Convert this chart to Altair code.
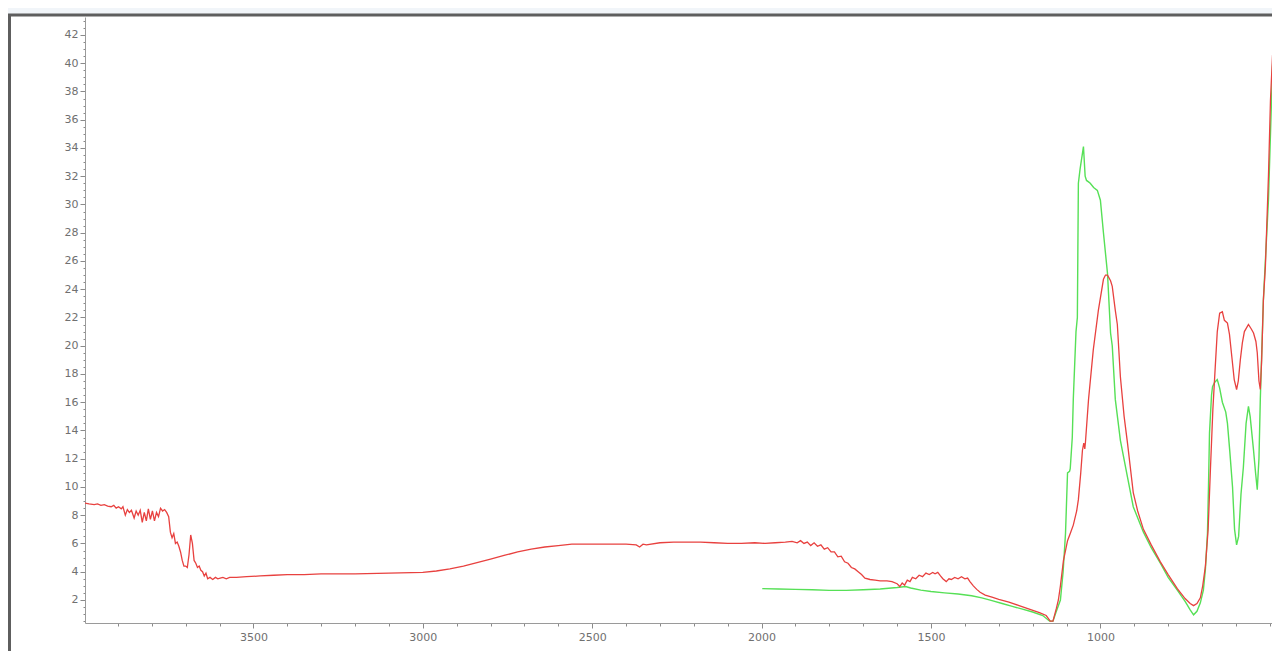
import altair as alt
import pandas as pd

# ---------------- data ----------------
red_x = [3997, 3985, 3970, 3960, 3950, 3940, 3930, 3920, 3912, 3905, 3898, 3890, 3885, 3878,
         3872, 3866, 3860, 3852, 3846, 3840, 3834, 3828, 3822, 3816, 3810, 3804, 3798, 3792,
         3786, 3780, 3774, 3768, 3762, 3756, 3750, 3745, 3740, 3735, 3730, 3725, 3720, 3715,
         3710, 3705, 3700, 3695, 3690, 3685, 3680, 3675, 3670, 3665, 3660, 3655, 3650, 3645,
         3640, 3635, 3628, 3620, 3612, 3605, 3598, 3590, 3580, 3570, 3550, 3520, 3480, 3440,
         3400, 3350, 3300, 3200, 3100, 3000, 2960, 2920, 2880, 2840, 2800, 2760, 2720, 2680,
         2640, 2600, 2560, 2520, 2480, 2440, 2400, 2370, 2360, 2350, 2340, 2300, 2260, 2220,
         2180, 2140, 2100, 2060, 2020, 1990, 1960, 1930, 1910, 1895, 1885, 1875, 1865, 1855,
         1845, 1835, 1825, 1815, 1805, 1795, 1785, 1775, 1765, 1755, 1745, 1735, 1725, 1715,
         1705, 1695, 1680, 1665, 1650, 1630, 1615, 1600, 1592, 1585, 1578, 1570, 1562, 1555,
         1545, 1535, 1525, 1515, 1505, 1495, 1488, 1480, 1472, 1465, 1455, 1447, 1440, 1430,
         1420, 1410, 1400, 1392, 1385, 1375, 1365, 1355, 1340, 1320, 1300, 1270, 1240, 1210,
         1180, 1160, 1148, 1140, 1130, 1124, 1118, 1109, 1103, 1097, 1089, 1080, 1070, 1065,
         1058, 1053, 1049, 1046, 1044, 1035, 1021, 1006, 991, 985, 979, 970, 965, 956,
         950, 941, 930, 920, 903, 890, 873, 850, 823, 800, 773, 750, 735, 725,
         715, 705, 698, 690, 682, 675, 668, 661, 655, 648, 640, 634, 625, 619,
         612, 605, 598, 593, 587, 581, 575, 563, 555, 548, 541, 537, 532, 528,
         524, 519, 513, 504, 498, 492, 489, 485, 482, 478, 474, 470]
red_y = [8.85, 8.8, 8.75, 8.8, 8.7, 8.75, 8.65, 8.6, 8.7, 8.5, 8.6, 8.45, 8.6, 8.0,
         8.4, 8.2, 8.35, 7.8, 8.3, 8.0, 8.35, 7.5, 8.2, 7.6, 8.45, 7.7, 8.3, 7.6,
         8.2, 7.9, 8.5, 8.3, 8.4, 8.2, 7.9, 6.8, 6.4, 6.7, 6.0, 6.1, 5.8, 5.4,
         4.8, 4.4, 4.4, 4.3, 5.2, 6.6, 6.0, 4.8, 4.6, 4.3, 4.4, 4.1, 4.0, 3.7,
         3.9, 3.5, 3.6, 3.45, 3.6, 3.5, 3.55, 3.6, 3.5, 3.6, 3.6, 3.65, 3.7, 3.75,
         3.8, 3.8, 3.85, 3.85, 3.9, 3.95, 4.05, 4.2, 4.4, 4.65, 4.9, 5.15, 5.4, 5.6,
         5.75, 5.85, 5.95, 5.95, 5.95, 5.95, 5.95, 5.9, 5.75, 5.95, 5.9, 6.05, 6.1, 6.1,
         6.1, 6.05, 6.0, 6.0, 6.05, 6.0, 6.05, 6.1, 6.15, 6.05, 6.2, 6.0, 6.1, 5.85,
         6.05, 5.8, 5.9, 5.6, 5.7, 5.4, 5.4, 5.05, 5.1, 4.7, 4.6, 4.3, 4.2, 4.0,
         3.8, 3.55, 3.45, 3.4, 3.35, 3.35, 3.3, 3.15, 2.95, 3.2, 3.05, 3.4, 3.3, 3.6,
         3.5, 3.75, 3.65, 3.9, 3.8, 3.95, 3.85, 3.95, 3.7, 3.5, 3.3, 3.5, 3.45, 3.6,
         3.5, 3.65, 3.5, 3.55, 3.3, 3.0, 2.75, 2.55, 2.35, 2.2, 2.05, 1.85, 1.6, 1.35,
         1.1, 0.9, 0.5, 0.5, 1.4, 2.0, 3.0, 4.8, 5.5, 6.2, 6.7, 7.3, 8.3, 9.1,
         11.0, 12.6, 13.1, 12.7, 13.2, 16.2, 19.7, 22.5, 24.7, 25.0, 25.0, 24.6, 24.2, 22.5,
         21.5, 17.8, 15.0, 13.1, 9.6, 8.3, 7.0, 5.9, 4.7, 3.8, 2.8, 2.1, 1.75, 1.6,
         1.75, 2.15, 3.0, 4.4, 7.0, 11.4, 15.5, 18.5, 21.0, 22.3, 22.4, 21.8, 21.6, 20.8,
         19.2, 17.6, 16.9, 17.5, 19.0, 20.2, 21.0, 21.5, 21.2, 20.9, 20.3, 19.5, 17.5, 16.9,
         19.0, 23.2, 25.6, 32.0, 37.4, 40.5, 41.5, 42.1, 40.5, 41.2, 40.4, 41.8]

green_x = [1998, 1950, 1900, 1850, 1800, 1750, 1700, 1650, 1600, 1575, 1560, 1530, 1500, 1460,
           1420, 1380, 1350, 1320, 1290, 1260, 1230, 1200, 1170, 1150, 1140, 1130, 1118, 1110,
           1103, 1097, 1091, 1089, 1083, 1080, 1072, 1068, 1065, 1060, 1050, 1045, 1041, 1035,
           1030, 1020, 1009, 1000, 991, 979, 970, 965, 956, 941, 920, 903, 873, 850,
           823, 800, 773, 750, 735, 725, 715, 705, 696, 690, 684, 681, 678, 672,
           669, 663, 655, 648, 640, 630, 625, 618, 610, 604, 598, 592, 585, 578,
           570, 563, 558, 548, 542, 537, 532, 528, 519, 504, 492, 485]
green_y = [2.8, 2.78, 2.75, 2.72, 2.68, 2.68, 2.72, 2.78, 2.88, 2.95, 2.85, 2.7, 2.6, 2.5,
           2.42, 2.3, 2.15, 1.95, 1.75, 1.55, 1.35, 1.15, 0.9, 0.5, 0.5, 1.2, 2.0, 4.0,
           6.7, 11.0, 11.1, 11.3, 13.5, 16.2, 21.0, 22.0, 31.5, 32.5, 34.1, 32.0, 31.7, 31.6,
           31.5, 31.2, 31.0, 30.3, 28.0, 25.1, 20.9, 20.0, 16.2, 13.3, 10.7, 8.6, 6.8, 5.7,
           4.6, 3.6, 2.7, 1.9, 1.3, 0.95, 1.2, 1.8, 2.7, 4.2, 6.7, 10.0, 13.8, 16.5,
           17.1, 17.4, 17.6, 17.0, 16.0, 15.3, 14.5, 12.5, 10.0, 7.0, 5.9, 6.5, 9.5, 11.4,
           14.5, 15.7, 15.0, 12.6, 11.0, 9.8, 12.0, 16.2, 23.2, 30.3, 39.7, 43.5]

x_label_values = [3500, 3000, 2500, 2000, 1500, 1000]
x_tick_values = list(range(3900, 499, -100))
y_label_values = list(range(2, 43, 2))
y_tick_values = [v / 2 for v in range(1, 87)]

X_DOMAIN = [493.5, 3997]
Y_DOMAIN = [0.37, 43.27]

W, H = 1187, 606

red_df = pd.DataFrame({"wn": red_x, "v": red_y})
green_df = pd.DataFrame({"wn": green_x, "v": green_y})

x_list = "[" + ",".join(str(v) for v in x_label_values) + "]"
y_list = "[" + ",".join(str(v) for v in y_label_values) + "]"
x_test = f"indexof({x_list}, datum.value) >= 0"
y_test = f"indexof({y_list}, datum.value) >= 0"

x_axis = alt.Axis(
    values=x_tick_values,
    labelExpr=f"{x_test} ? datum.label : ''",
    format="d",
    grid=False,
    title=None,
    domainColor="#9a9a9a",
    tickColor="#8a8a8a",
    tickSize={"condition": {"test": x_test, "value": 5}, "value": 3},
    labelFont="DejaVu Sans",
    labelFontSize=11,
    labelColor="#707070",
    labelPadding=3,
    labelFlush=False,
    labelOverlap=False,
)

y_axis = alt.Axis(
    values=y_tick_values,
    labelExpr=f"{y_test} ? format(datum.value, 'd') : ''",
    grid=False,
    title=None,
    domainColor="#9a9a9a",
    tickColor="#8a8a8a",
    tickSize={"condition": {"test": y_test, "value": 5}, "value": 2},
    labelFont="DejaVu Sans",
    labelFontSize=11,
    labelColor="#707070",
    labelPadding=2,
    labelFlush=False,
    labelOverlap=False,
)

x_enc = alt.X("wn:Q", scale=alt.Scale(domain=X_DOMAIN, reverse=True, nice=False, zero=False), axis=x_axis)
y_enc = alt.Y("v:Q", scale=alt.Scale(domain=Y_DOMAIN, nice=False, zero=False), axis=y_axis)

green_line = alt.Chart(green_df).mark_line(color="#56e056", strokeWidth=1.4, clip=True).encode(
    x=x_enc, y=y_enc, order="wn:Q"
)
red_line = alt.Chart(red_df).mark_line(color="#e8413f", strokeWidth=1.3, clip=True).encode(
    x=x_enc, y=y_enc, order="wn:Q"
)

# decorative window frame around the plot
frame_data = pd.DataFrame({"k": [0]})
top_strip = alt.Chart(frame_data).mark_rect(color="#f1f5f9").encode(
    x=alt.value(-77), x2=alt.value(W), y=alt.value(-9), y2=alt.value(-3)
)
frame_top = alt.Chart(frame_data).mark_rule(color="#5e5e5e", strokeWidth=3).encode(
    x=alt.value(-77), x2=alt.value(W), y=alt.value(-2)
)
frame_left = alt.Chart(frame_data).mark_rule(color="#5e5e5e", strokeWidth=3).encode(
    x=alt.value(-75.5), y=alt.value(-3), y2=alt.value(H + 40)
)

chart = alt.layer(top_strip, frame_top, frame_left, green_line, red_line).properties(
    width=W,
    height=H,
    autosize=alt.AutoSizeParams(type="none"),
    padding={"left": 77, "top": 9, "right": 0, "bottom": 28},
    background="white",
).configure_view(stroke=None)

chart.save("out.html", embed_options={"renderer": "svg", "actions": False})
